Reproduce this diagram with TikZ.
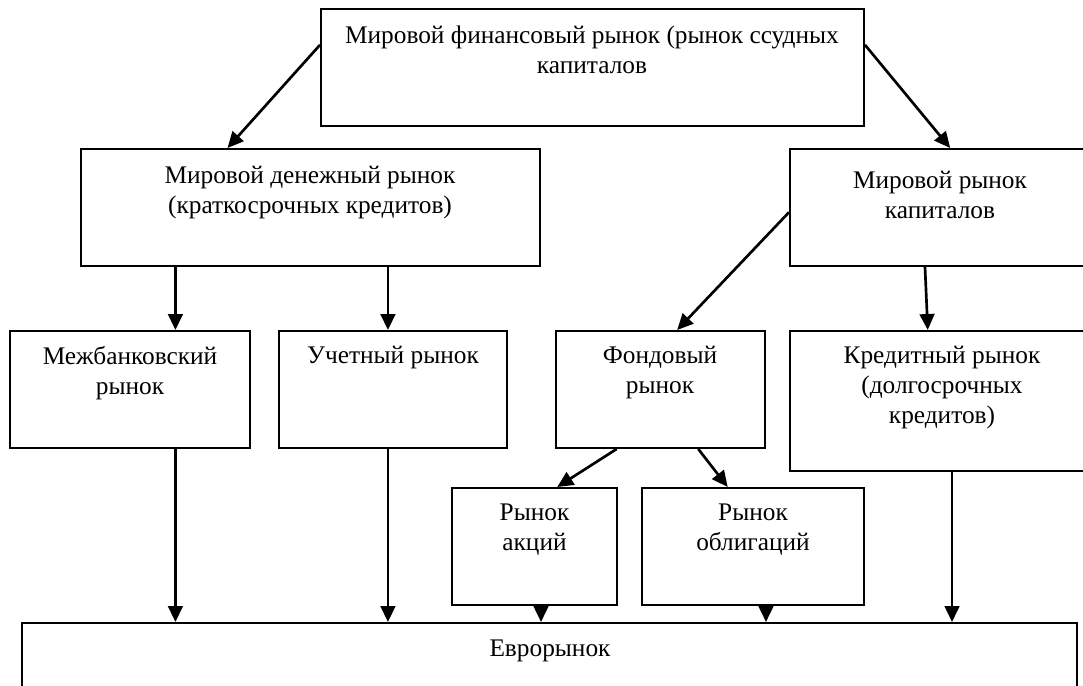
\documentclass[tikz,border=0pt]{standalone}
\usepackage{fontspec}
\setmainfont{Liberation Serif}
\usetikzlibrary{arrows.meta,calc,fit}
\begin{document}
\begin{tikzpicture}[x=0.75pt,y=-0.75pt,
  box/.style={draw, line width=1.5pt, inner sep=0pt},
  lbl/.style={align=center, inner sep=0pt, font=\fontsize{19}{22.5}\selectfont},
  arr/.style={line width=2pt, -{Triangle[length=12pt,width=11pt]}}]
\useasboundingbox (0,0) rectangle (1083,686);
\clip (0,0) rectangle (1083,686);
% boxes
\node[box, fit={(321,9)(864,126)}] (top) {};
\node[box, fit={(81,149)(540,266)}] (ml) {};
\node[box, fit={(790,149)(1095,266)}] (mr) {};
\node[box, fit={(10,331)(250,448)}] (mb) {};
\node[box, fit={(279,331)(507,448)}] (uch) {};
\node[box, fit={(556,331)(765,448)}] (fond) {};
\node[box, fit={(790,331)(1095,471)}] (kred) {};
\node[box, fit={(452,488)(617,605)}] (akc) {};
\node[box, fit={(642,488)(864,605)}] (obl) {};
\node[box, fit={(22,623)(1077,700)}] (euro) {};
% texts
\node[lbl] (top-t) at (592,50) {Мировой финансовый рынок (рынок ссудных\\капиталов};
\node[lbl] (ml-t) at (310,193) {Мировой денежный рынок\\(краткосрочных кредитов)};
\node[lbl] (mr-t) at (940,195) {Мировой рынок\\капиталов};
\node[lbl] (mb-t) at (130,373) {Межбанковский\\рынок};
\node[lbl] (uch-t) at (393,358) {Учетный рынок};
\node[lbl] (fond-t) at (660,373) {Фондовый\\рынок};
\node[lbl] (kred-t) at (942,388) {Кредитный рынок\\(долгосрочных\\кредитов)};
\node[lbl] (akc-t) at (534.5,530) {Рынок\\акций};
\node[lbl] (obl-t) at (753,530) {Рынок\\облигаций};
\node[lbl] (euro-t) at (550,651) {Еврорынок};
% connectors
\draw[arr] ($(top.north west)!0.31!(top.south west)$) -- ($(ml.north west)!0.32!(ml.north east)$);
\draw[arr] ($(top.north east)!0.31!(top.south east)$) -- ($(mr.north west)!0.525!(mr.north east)$);
\coordinate (a1) at ($(ml.south west)!0.207!(ml.south east)$);
\coordinate (a2) at ($(ml.south west)!0.668!(ml.south east)$);
\draw[arr] (a1) -- (a1 |- mb.north);
\draw[arr] (a2) -- (a2 |- uch.north);
\draw[arr] ($(mr.north west)!0.54!(mr.south west)$) -- ($(fond.north west)!0.579!(fond.north east)$);
\draw[arr] ($(mr.south west)!0.443!(mr.south east)$) -- ($(kred.north west)!0.452!(kred.north east)$);
\draw[arr] ($(fond.south west)!0.292!(fond.south east)$) -- ($(akc.north west)!0.636!(akc.north east)$);
\draw[arr] ($(fond.south west)!0.679!(fond.south east)$) -- ($(obl.north west)!0.387!(obl.north east)$);
\draw[arr] (a1 |- mb.south) -- (a1 |- euro.north);
\draw[arr] (a2 |- uch.south) -- (a2 |- euro.north);
\coordinate (b1) at ($(akc.south west)!0.539!(akc.south east)$);
\coordinate (b2) at ($(obl.south west)!0.558!(obl.south east)$);
\coordinate (b3) at ($(kred.south west)!0.531!(kred.south east)$);
\draw[arr] (b1) -- (b1 |- euro.north);
\draw[arr] (b2) -- (b2 |- euro.north);
\draw[arr] (b3) -- (b3 |- euro.north);
\end{tikzpicture}
\end{document}
